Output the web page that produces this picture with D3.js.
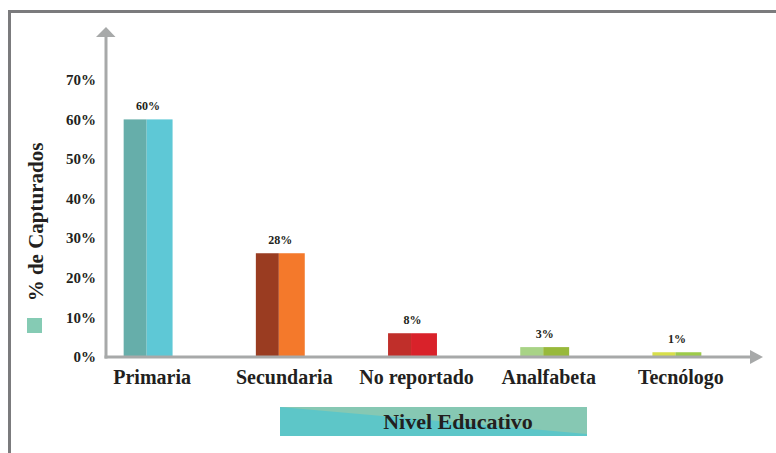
<!DOCTYPE html>
<html>
<head>
<meta charset="utf-8">
<style>
  body { margin: 0; background: #fff; }
  svg { display: block; }
  text { font-weight: bold; fill: #231f20; }
</style>
</head>
<body>
<svg width="776" height="453"></svg>
<script src="https://cdnjs.cloudflare.com/ajax/libs/d3/7.8.5/d3.min.js"></script>
<script>
// data
var categories = ["Primaria", "Secundaria", "No reportado", "Analfabeta", "Tecnólogo"];
var values = [60, 26.2, 6, 2.5, 1.2];          // bar heights as drawn
var valueLabels = ["60%", "28%", "8%", "3%", "1%"];  // printed labels
var yTicks = [0, 10, 20, 30, 40, 50, 60, 70];
var darkColors = ["#66aeaa", "#9a3c21", "#c02f2a", "#a8d386", "#d7df4a"];
var lightColors = ["#5ec8d6", "#f4792b", "#d9222a", "#98b93b", "#9dcb49"];

var serif = "'Liberation Serif', 'Times New Roman', Tinos, 'DejaVu Serif', serif";

var svg = d3.select("svg");

// frame (left + top only)
svg.append("path")
    .attr("d", "M9.5,453 V11.5 H776")
    .attr("fill", "none")
    .attr("stroke", "#7b7b7d")
    .attr("stroke-width", 3);

var x0 = 106, y0 = 357;

var x = d3.scaleBand()
    .domain(categories)
    .range([84, 741])
    .paddingInner(0.63)
    .paddingOuter(0.3);

var y = d3.scaleLinear()
    .domain([0, 70])
    .range([y0, y0 - 70 * 3.96]);

// bars (two-tone)
var bars = svg.append("g").selectAll("g")
    .data(categories)
    .enter().append("g");

bars.append("rect")
    .attr("x", function(d) { return x(d); })
    .attr("y", function(d, i) { return y(values[i]); })
    .attr("width", x.bandwidth() * 0.47)
    .attr("height", function(d, i) { return y(0) - y(values[i]); })
    .attr("fill", function(d, i) { return darkColors[i]; });

bars.append("rect")
    .attr("x", function(d) { return x(d) + x.bandwidth() * 0.47; })
    .attr("y", function(d, i) { return y(values[i]); })
    .attr("width", x.bandwidth() * 0.53)
    .attr("height", function(d, i) { return y(0) - y(values[i]); })
    .attr("fill", function(d, i) { return lightColors[i]; });

bars.append("text")
    .attr("x", function(d) { return x(d) + x.bandwidth() / 2; })
    .attr("y", function(d, i) { return y(values[i]) - 9; })
    .attr("text-anchor", "middle")
    .style("font-family", serif)
    .style("font-size", "12px")
    .text(function(d, i) { return valueLabels[i]; });

// axes
var axisColor = "#a7a9a9";
svg.append("line")
    .attr("x1", x0).attr("x2", x0)
    .attr("y1", y0 + 1.5).attr("y2", 34)
    .attr("stroke", axisColor).attr("stroke-width", 3);
svg.append("path")
    .attr("d", "M96,37 L106,27 L115.5,37 Z")
    .attr("fill", axisColor);
svg.append("line")
    .attr("x1", x0 - 1.5).attr("x2", 753)
    .attr("y1", y0).attr("y2", y0)
    .attr("stroke", axisColor).attr("stroke-width", 3);
svg.append("path")
    .attr("d", "M750,350 L763,357 L750,364 Z")
    .attr("fill", axisColor);

// y tick labels
svg.append("g").selectAll("text")
    .data(yTicks)
    .enter().append("text")
    .attr("x", 96)
    .attr("y", function(d) { return y(d); })
    .attr("dy", "0.35em")
    .attr("text-anchor", "end")
    .style("font-family", serif)
    .style("font-size", "15px")
    .text(function(d) { return d + "%"; });

// category labels
svg.append("g").selectAll("text")
    .data(categories)
    .enter().append("text")
    .attr("x", function(d) { return x(d) + x.bandwidth() / 2 + 4; })
    .attr("y", 384)
    .attr("text-anchor", "middle")
    .style("font-family", serif)
    .style("font-size", "20px")
    .text(function(d) { return d; });

// y axis title with swatch
svg.append("text")
    .attr("transform", "translate(43,222) rotate(-90)")
    .attr("text-anchor", "middle")
    .style("font-family", serif)
    .style("font-size", "21px")
    .text("% de Capturados");
svg.append("rect")
    .attr("x", 27).attr("y", 318)
    .attr("width", 15).attr("height", 15)
    .attr("fill", "#85cbb4");

// x axis title banner
svg.append("rect")
    .attr("x", 280).attr("y", 407)
    .attr("width", 307).attr("height", 29)
    .attr("fill", "#5dc6c8");
svg.append("path")
    .attr("d", "M280,407 L587,407 L587,434 Z")
    .attr("fill", "#86c8b3");
svg.append("text")
    .attr("x", 458)
    .attr("y", 429)
    .attr("text-anchor", "middle")
    .style("font-family", serif)
    .style("font-size", "22px")
    .text("Nivel Educativo");
</script>
</body>
</html>
